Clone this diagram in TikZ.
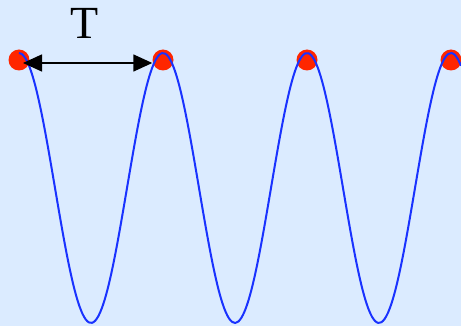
\documentclass[tikz,border=0pt]{standalone}
\usepackage{fontspec}
\setmainfont{Liberation Serif}
\usetikzlibrary{arrows.meta}

\definecolor{bgblue}{RGB}{219,235,255}
\definecolor{waveblue}{RGB}{25,50,255}
\definecolor{dotred}{RGB}{255,38,0}

\tikzset{
  peak/.style={circle, fill=dotred, minimum size=21pt, inner sep=0pt},
  wave/.style={waveblue, line width=2pt, line join=round},
  span/.style={black, line width=1.5pt, {Triangle[length=19pt,width=17pt]}-{Triangle[length=19pt,width=17pt]}}
}

\begin{document}
\begin{tikzpicture}[x=1pt, y=-1pt]
    % Background
    \fill[bgblue] (0,0) rectangle (461,326);
    \useasboundingbox (0,0) rectangle (461,326);

    % Peaks of the wave
    \foreach \i in {0,...,3} {
        \node[peak] (p\i) at (19+144*\i,60) {};
    }

    % Wave
    \draw[wave] plot[domain=19:461, samples=140, smooth] (\x, {188-135*cos((\x-19)/144*360)});

    % Period
    \draw[span] ([xshift=4pt,yshift=-3pt]p0.center) -- ([yshift=-3pt]p1.west);
    \node[font=\fontsize{46}{50}\selectfont] (period) at (85,23) {T};
\end{tikzpicture}
\end{document}
